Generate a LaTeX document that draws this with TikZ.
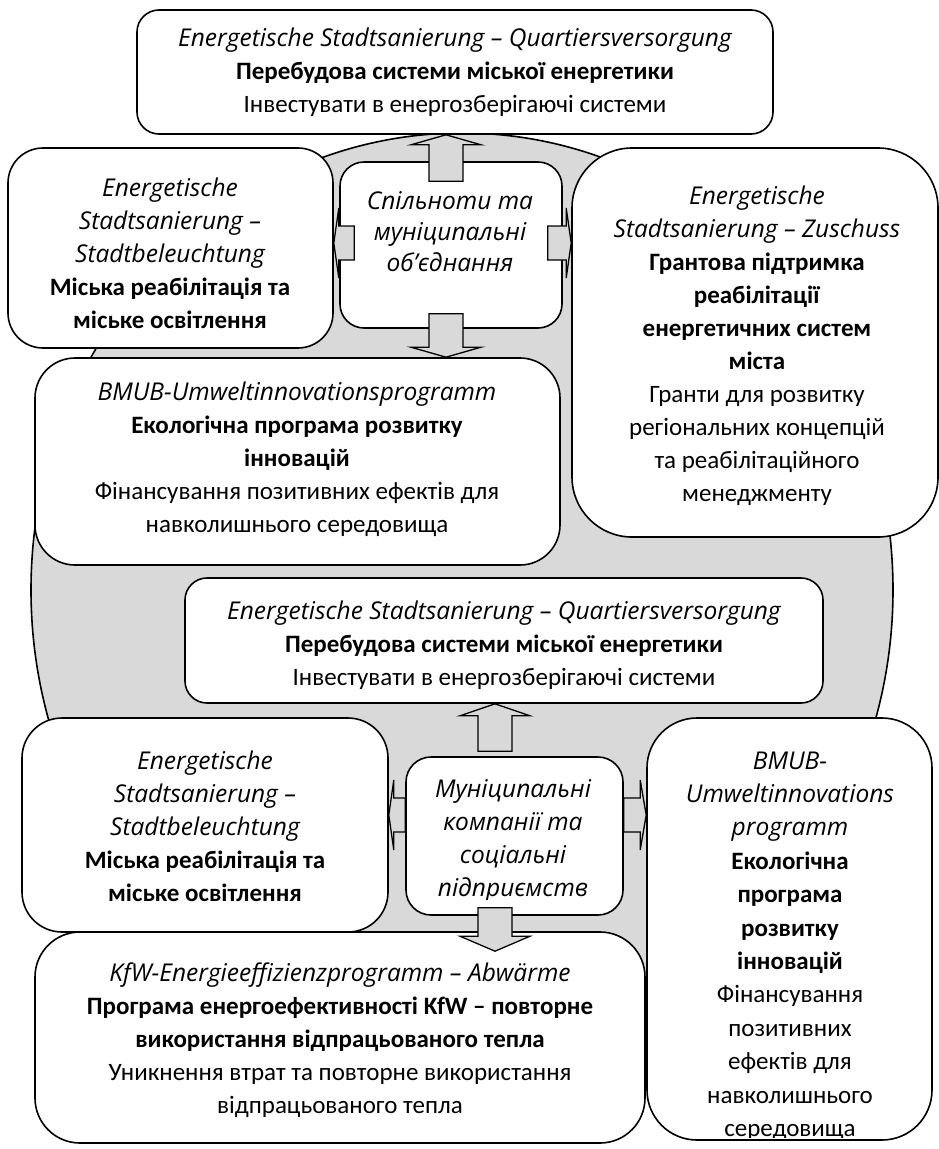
\documentclass[tikz,border=0pt]{standalone}
\usepackage{fontspec}
\setmainfont{Carlito}
\newfontfamily\osans{Open Sans}[Scale=0.98]
\newcommand{\ital}[1]{{\osans\itshape #1}}
\usetikzlibrary{calc}

\tikzstyle{box} = [draw, fill=white, line width=1.6pt, inner sep=0pt]
\tikzstyle{txt} = [align=center, inner sep=0pt, font=\fontsize{25}{33}\selectfont]
\tikzset{barrow/.style={draw, fill=gray!30, line width=1.3pt, to path={
	($(\tikztostart)!17pt!90:(\tikztotarget)$)
	-- ($(\tikztotarget)!#1!(\tikztostart)!17pt!-90:(\tikztostart)$)
	-- ($(\tikztotarget)!#1!(\tikztostart)!35pt!-90:(\tikztostart)$)
	-- (\tikztotarget)
	-- ($(\tikztotarget)!#1!(\tikztostart)!35pt!90:(\tikztostart)$)
	-- ($(\tikztotarget)!#1!(\tikztostart)!17pt!90:(\tikztostart)$)
	-- ($(\tikztostart)!17pt!-90:(\tikztotarget)$)
	-- cycle}},
	barrow/.default=10pt}

\begin{document}
\begin{tikzpicture}[x=1pt, y=-1pt]
	\useasboundingbox (0,0) rectangle (939,1149);
	\draw[line width=1.6pt, fill=gray!30] (462,590) ellipse [x radius=431pt, y radius=457pt];

	\node[box, minimum width=636pt, minimum height=124pt, rounded corners=22pt] (top) at (455,72) {};
	\node[box, minimum width=325pt, minimum height=200pt, rounded corners=35pt] (lb1) at (170.5,248) {};
	\node[box, minimum width=222pt, minimum height=166pt, rounded corners=24pt] (c1) at (451,245) {};
	\node[box, minimum width=366pt, minimum height=389pt, rounded corners=60pt] (rb1) at (755,342.5) {};
	\node[box, minimum width=525pt, minimum height=207pt, rounded corners=40pt] (bm1) at (297.5,461.5) {};
	\node[box, minimum width=638pt, minimum height=125pt, rounded corners=22pt] (m2) at (504,640.5) {};
	\node[box, minimum width=366pt, minimum height=214pt, rounded corners=40pt] (lb2) at (205,825) {};
	\node[box, minimum width=217pt, minimum height=158pt, rounded corners=25pt] (c2) at (514.5,836) {};
	\node[box, minimum width=285pt, minimum height=422pt, rounded corners=50pt] (rb2) at (789.5,929) {};
	\node[box, minimum width=610pt, minimum height=211pt, rounded corners=45pt] (kfw) at (340,1037.5) {};

	% arrow hubs
	\coordinate (k1) at (446,243);
	\coordinate (k2) at (495,815);

	\draw[barrow] ($(k1 |- c1.north)+(0,20)$) to (k1 |- top.south);
	\draw[barrow] ($(k1 |- c1.south)+(0,-15)$) to (k1 |- bm1.north);
	\draw[barrow=5pt] ($(k1 -| c1.west)+(15,0)$) to (k1 -| lb1.east);
	\draw[barrow=5pt] ($(k1 -| c1.east)+(-15,0)$) to (k1 -| rb1.west);
	\draw[barrow=12pt] ($(k2 |- c2.north)+(0,-5)$) to (k2 |- m2.south);
	\draw[barrow=15pt] ($(k2 |- c2.south)+(0,-8)$) to ($(k2 |- kfw.north)+(0,20)$);
	\draw[barrow=5pt] (k2 -| c2.west) to (k2 -| lb2.east);
	\draw[barrow=6pt] (k2 -| c2.east) to (k2 -| rb2.west);

	\node[txt] (ttop) at (455,72) {\ital{Energetische Stadtsanierung – Quartiersversorgung}\\ \textbf{Перебудова системи міської енергетики}\\ Інвестувати в енергозберігаючі системи};
	\node[txt] (tlb1) at (170,253) {\ital{Energetische}\\ \ital{Stadtsanierung –}\\ \ital{Stadtbeleuchtung}\\ \textbf{Міська реабілітація та}\\ \textbf{міське освітлення}};
	\node[txt, font=\fontsize{25}{31}\selectfont] (tc1) at (450,232) {\ital{Спільноти та}\\ \ital{муніципальні}\\ \ital{об’єднання}};
	\node[txt] (trb1) at (757,346) {\ital{Energetische}\\ \ital{Stadtsanierung – Zuschuss}\\ \textbf{Грантова підтримка}\\ \textbf{реабілітації}\\ \textbf{енергетичних систем}\\ \textbf{міста}\\ Гранти для розвитку\\ регіональних концепцій\\ та реабілітаційного\\ менеджменту};
	\node[txt] (tbm1) at (297,459) {\ital{BMUB-Umweltinnovationsprogramm}\\ \textbf{Екологічна програма розвитку}\\ \textbf{інновацій}\\ Фінансування позитивних ефектів для\\ навколишнього середовища};
	\node[txt] (tm2) at (504,645) {\ital{Energetische Stadtsanierung – Quartiersversorgung}\\ \textbf{Перебудова системи міської енергетики}\\ Інвестувати в енергозберігаючі системи};
	\node[txt] (tlb2) at (205,826) {\ital{Energetische}\\ \ital{Stadtsanierung –}\\ \ital{Stadtbeleuchtung}\\ \textbf{Міська реабілітація та}\\ \textbf{міське освітлення}};
	\begin{scope}
		\clip (406,757) rectangle (623,899);
		\node[txt] (tc2) at (513,841) {\ital{Муніципальні}\\ \ital{компанії та}\\ \ital{соціальні}\\ \ital{підприємств}};
	\end{scope}
	\begin{scope}
		\clip (647,718) rectangle (932,1137);
		\node[txt, font=\fontsize{25}{33.4}\selectfont] (trb2) at (790,946) {\ital{BMUB-}\\ \ital{Umweltinnovations}\\ \ital{programm}\\ \textbf{Екологічна}\\ \textbf{програма}\\ \textbf{розвитку}\\ \textbf{інновацій}\\ Фінансування\\ позитивних\\ ефектів для\\ навколишнього\\ середовища};
	\end{scope}
	\node[txt] (tkfw) at (340,1040) {\ital{KfW-Energieeffizienzprogramm – Abwärme}\\ \textbf{Програма енергоефективності KfW – повторне}\\ \textbf{використання відпрацьованого тепла}\\ Уникнення втрат та повторне використання\\ відпрацьованого тепла};
\end{tikzpicture}
\end{document}
